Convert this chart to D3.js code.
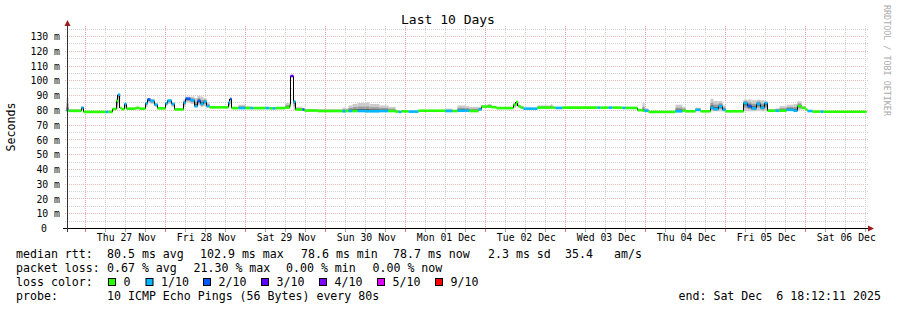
<!DOCTYPE html>
<html>
<head>
<meta charset="utf-8">
<script src="https://cdn.jsdelivr.net/npm/d3@7"></script>
<style>
  body { margin: 0; background: #fff; }
  svg { display: block; font-family: 'DejaVu Sans Mono', monospace; }
</style>
</head>
<body>
<div id="app"></div>
<script>
// hours since graph start where each rrd step begins
const hours = [0.0, 0.6, 4.5, 5.1, 11.7, 12.6, 13.8, 15.0, 15.5, 16.1, 16.5, 17.4, 18.0, 20.7, 21.9, 23.7, 24.3, 25.2, 26.4, 27.3,
  29.7, 30.3, 31.5, 32.4, 35.1, 35.7, 37.2, 38.4, 39.3, 40.2, 41.1, 42.0, 42.9, 48.6, 49.1, 49.5, 51.6, 53.7, 55.2, 56.1,
  59.7, 60.9, 61.8, 62.7, 65.7, 66.9, 67.2, 68.1, 68.7, 70.8, 71.4, 75.3, 82.8, 83.7, 84.6, 85.8, 87.3, 89.7, 90.9, 93.9,
  96.6, 98.7, 99.6, 100.5, 102.6, 105.6, 113.7, 115.8, 117.3, 119.7, 120.9, 123.6, 124.5, 126.3, 127.5, 129.0, 134.1, 134.9, 135.5, 136.2,
  137.1, 141.3, 145.2, 145.8, 146.7, 148.8, 159.3, 160.2, 162.6, 163.8, 166.8, 167.7, 171.3, 172.8, 173.4, 174.6, 182.7, 184.8, 185.7, 188.7,
  190.2, 193.2, 194.1, 195.6, 196.8, 197.7, 203.1, 204.3, 205.5, 207.0, 208.2, 209.4, 210.3, 212.7, 213.9, 216.0, 218.1, 219.3, 220.5, 221.7,
  222.3, 223.8, 226.2, 227.1]
// median rtt in ms
const median = [79.6, 79.3, 81.5, 78.6, 78.6, 78.6, 80.6, 86.0, 90.3, 81.2, 80.5, 84.0, 80.8, 81.3, 80.8, 84.5, 87.0, 86.0, 83.5, 81.0,
  84.5, 86.3, 84.0, 80.3, 85.0, 87.5, 86.5, 82.5, 86.0, 84.0, 85.5, 82.5, 81.7, 85.0, 87.5, 81.2, 81.2, 81.2, 81.2, 81.2,
  81.2, 81.0, 81.0, 81.2, 81.5, 83.0, 102.9, 85.5, 80.2, 80.2, 79.5, 79.2, 79.0, 79.2, 79.2, 79.2, 79.2, 79.0, 79.0, 79.2,
  79.2, 78.8, 78.6, 79.0, 78.8, 79.4, 79.2, 79.2, 79.4, 79.4, 79.2, 80.3, 82.2, 82.2, 81.8, 81.2, 83.5, 85.3, 82.5, 81.5,
  80.8, 81.5, 81.5, 81.5, 81.3, 81.5, 81.5, 81.5, 81.5, 81.5, 81.3, 81.3, 79.8, 79.4, 79.4, 78.6, 79.0, 79.5, 79.0, 80.0,
  79.0, 81.5, 80.5, 82.5, 80.0, 79.0, 84.5, 82.5, 81.0, 84.0, 81.5, 84.5, 79.4, 79.4, 79.4, 80.0, 79.4, 82.5, 81.3, 80.2,
  79.2, 78.8, 78.8, 78.7]
// lost pings out of 10
const loss = [1, 0, 1, 0, 1, 0, 0, 0, 1, 0, 0, 1, 0, 0, 0, 1, 2, 1, 1, 0,
  1, 1, 1, 0, 1, 2, 1, 1, 2, 1, 1, 1, 0, 1, 2, 0, 1, 0, 1, 0,
  1, 0, 1, 0, 0, 0, 3, 1, 0, 2, 0, 0, 1, 0, 1, 0, 1, 1, 1, 1,
  0, 0, 1, 0, 1, 0, 1, 0, 1, 1, 0, 1, 0, 0, 0, 0, 0, 0, 0, 0,
  1, 0, 0, 0, 1, 0, 1, 0, 1, 0, 1, 0, 0, 0, 1, 0, 1, 0, 0, 1,
  0, 1, 1, 1, 1, 0, 1, 2, 1, 1, 1, 1, 0, 1, 0, 1, 1, 0, 0, 0,
  1, 0, 1, 0]
// smoke: lowest and highest ping of each step in ms
const smokeLo = [79.0, 79.0, 79.5, 78.3, 78.3, 78.3, 80.2, 80.5, 86.0, 80.6, 80.1, 81.0, 80.4, 80.9, 80.4, 82.0, 84.5, 84.0, 82.0, 80.6,
  82.5, 84.0, 82.0, 79.9, 82.0, 85.0, 84.0, 81.5, 83.0, 82.0, 82.5, 81.5, 81.3, 82.0, 85.0, 80.8, 80.8, 80.8, 80.8, 80.8,
  80.8, 80.6, 80.6, 80.8, 81.0, 81.0, 102.5, 80.0, 79.8, 79.8, 79.1, 78.8, 78.6, 78.8, 78.8, 78.8, 78.8, 78.6, 78.6, 78.8,
  78.8, 78.4, 78.2, 78.6, 78.4, 79.0, 78.8, 78.8, 79.0, 79.0, 78.8, 79.9, 81.8, 81.8, 81.4, 80.8, 81.5, 83.0, 81.5, 81.1,
  80.4, 81.1, 81.1, 81.1, 80.9, 81.1, 81.1, 81.1, 81.1, 81.1, 80.9, 80.9, 79.4, 79.0, 79.0, 78.3, 78.6, 79.0, 78.6, 79.0,
  78.6, 79.0, 79.0, 79.0, 79.0, 78.6, 79.0, 79.0, 79.0, 79.5, 79.0, 79.0, 79.0, 79.0, 79.0, 79.4, 79.0, 80.0, 80.8, 79.8,
  78.8, 78.4, 78.4, 78.3]
const smokeHi = [88.0, 80.5, 82.0, 79.0, 79.0, 79.0, 81.0, 88.0, 90.6, 82.0, 81.0, 84.5, 81.3, 81.8, 81.3, 85.5, 87.8, 87.5, 84.5, 81.5,
  85.5, 87.0, 85.0, 80.8, 87.0, 89.0, 89.0, 88.0, 89.5, 89.0, 88.0, 85.0, 82.1, 85.5, 87.8, 81.6, 83.5, 82.5, 81.6, 81.6,
  81.6, 81.4, 81.4, 81.6, 84.6, 85.0, 103.2, 86.5, 82.0, 81.0, 80.5, 80.5, 81.5, 81.0, 83.0, 84.0, 84.6, 85.0, 84.0, 83.0,
  82.0, 80.0, 79.5, 79.4, 79.2, 79.8, 80.8, 79.6, 83.0, 82.5, 82.0, 82.0, 83.0, 84.0, 82.3, 81.6, 84.5, 85.5, 83.5, 82.5,
  81.2, 83.0, 83.8, 82.0, 81.7, 82.0, 82.0, 82.0, 81.9, 81.9, 81.7, 81.7, 80.3, 84.6, 81.0, 79.0, 83.5, 82.0, 79.5, 81.5,
  79.5, 87.5, 86.0, 86.0, 83.0, 79.5, 87.0, 87.0, 86.5, 87.0, 86.5, 86.0, 80.5, 81.0, 82.5, 83.5, 84.0, 85.8, 82.5, 80.6,
  79.6, 79.3, 79.2, 79.1]

const lossSteps = [0, 1, 2, 3, 4, 5, 9]
const lossColors = ['#26ff00', '#00b8ff', '#0059ff', '#5e00ff', '#7e00ff', '#dd00ff', '#ff0000']
const lossLabels = ['0', '1/10', '2/10', '3/10', '4/10', '5/10', '9/10']
const yTicks = [0, 10, 20, 30, 40, 50, 60, 70, 80, 90, 100, 110, 120, 130]
const dayLabels = ['Thu 27 Nov', 'Fri 28 Nov', 'Sat 29 Nov', 'Sun 30 Nov', 'Mon 01 Dec',
  'Tue 02 Dec', 'Wed 03 Dec', 'Thu 04 Dec', 'Fri 05 Dec', 'Sat 06 Dec']
const rttStats = ['80.5 ms avg', '102.9 ms max', '78.6 ms min', '78.7 ms now', '2.3 ms sd', '35.4', 'am/s']
const lossStats = ['0.67 % avg', '21.30 % max', '0.00 % min', '0.00 % now']
const probeText = '10 ICMP Echo Pings (56 Bytes) every 80s'
const endText = 'end: Sat Dec  6 18:12:11 2025'

;(function (d3) {
  'use strict'

  const w = 897
  const h = 310
  const start = new Date(2025, 10, 26, 18, 12, 11)
  const end = new Date(2025, 11, 6, 18, 12, 11)
  const at = hr => new Date(+start + hr * 3600e3)
  const colorOf = l => lossColors[lossSteps.indexOf(l)]

  const x = d3.scaleTime().domain([start, end]).range([66.5, 866.5])
  const y = d3.scaleLinear().domain([0, 130]).range([228, 36])

  const svg = d3.select('#app')
    .append('svg')
    .attr('width', w)
    .attr('height', h)

  svg.append('rect').attr('width', w).attr('height', h).attr('fill', '#fff')

  // title, y label, watermark
  svg.append('text')
    .attr('x', 448).attr('y', 24)
    .attr('text-anchor', 'middle')
    .style('font-size', '13px')
    .text('Last 10 Days')

  svg.append('text')
    .attr('transform', 'translate(14.5,127) rotate(-90)')
    .attr('text-anchor', 'middle')
    .style('font-size', '11.6px')
    .text('Seconds')

  svg.append('text')
    .attr('transform', 'translate(884,5) rotate(90)')
    .style('font-size', '8.4px')
    .attr('fill', '#ababab')
    .text('RRDTOOL / TOBI OETIKER')

  // grid
  const grid = svg.append('g')
  const yGrid = d3.range(5, 136, 5)
  grid.selectAll('line.hg')
    .data(yGrid)
    .enter()
    .append('line')
    .attr('x1', 65).attr('x2', 868)
    .attr('y1', d => Math.round(y(d)) + 0.5)
    .attr('y2', d => Math.round(y(d)) + 0.5)
    .attr('stroke', d => d % 10 === 0 ? '#ebb9b9' : '#d2d2d2')
    .attr('stroke-dasharray', '1,1')

  const sixHours = d3.timeHour.every(6).range(start, end)
  grid.selectAll('line.vg')
    .data(sixHours)
    .enter()
    .append('line')
    .attr('x1', d => Math.floor(x(d)) + 0.5)
    .attr('x2', d => Math.floor(x(d)) + 0.5)
    .attr('y1', 26).attr('y2', 231)
    .attr('stroke', d => d.getHours() === 0 ? '#e7a3a3' : '#cfcfcf')
    .attr('stroke-dasharray', '1,1')

  // steps
  const steps = hours.map((hr, i) => ({
    x0: x(at(hr)),
    x1: x(at(i < hours.length - 1 ? hours[i + 1] : 240)),
    med: median[i],
    loss: loss[i],
    lo: smokeLo[i],
    hi: smokeHi[i]
  }))

  // smoke
  const smoke = svg.append('g')
  const layers = [[1, '#cbcbcb'], [0.55, '#9c9c9c'], [0.25, '#555']]
  layers.forEach(function (ly) {
    smoke.selectAll(null)
      .data(steps)
      .enter()
      .append('rect')
      .attr('x', d => d.x0)
      .attr('width', d => d.x1 - d.x0)
      .attr('y', d => y(d.med + (d.hi - d.med) * ly[0]))
      .attr('height', d => y(d.med - (d.med - d.lo) * ly[0]) - y(d.med + (d.hi - d.med) * ly[0]))
      .attr('fill', ly[1])
  })

  // median: black risers, coloured treads
  const risers = steps.slice(0, -1).map((d, i) => ({ x: d.x1, a: d.med, b: steps[i + 1].med }))
    .filter(d => Math.abs(y(d.a) - y(d.b)) > 2)
  svg.append('g')
    .selectAll('line')
    .data(risers)
    .enter()
    .append('line')
    .attr('x1', d => Math.round(d.x) - 0.5)
    .attr('x2', d => Math.round(d.x) - 0.5)
    .attr('y1', d => y(d.a))
    .attr('y2', d => y(d.b))
    .attr('stroke', '#000')
    .attr('stroke-width', 1)

  svg.append('g')
    .selectAll('line')
    .data(steps)
    .enter()
    .append('line')
    .attr('x1', d => d.x0)
    .attr('x2', d => d.x1)
    .attr('y1', d => y(d.med))
    .attr('y2', d => y(d.med))
    .attr('stroke', d => colorOf(d.loss))
    .attr('stroke-width', 2.6)

  // axes
  const ax = svg.append('g')
  ax.append('line')
    .attr('x1', 63).attr('x2', 869)
    .attr('y1', 228.5).attr('y2', 228.5)
    .attr('stroke', '#000')
  ax.append('line')
    .attr('x1', 67.5).attr('x2', 67.5)
    .attr('y1', 232).attr('y2', 24)
    .attr('stroke', '#333')
  ax.append('path')
    .attr('d', 'M868,225.5L874,228.5L868,231.5Z')
    .attr('fill', '#9b1c1c')
  ax.append('path')
    .attr('d', 'M64.5,26L67.5,20L70.5,26Z')
    .attr('fill', '#9b1c1c')

  ax.selectAll('line.tk')
    .data(sixHours)
    .enter()
    .append('line')
    .attr('x1', d => Math.floor(x(d)) + 0.5)
    .attr('x2', d => Math.floor(x(d)) + 0.5)
    .attr('y1', 229).attr('y2', 232)
    .attr('stroke', d => d.getHours() === 0 ? '#d77' : '#aaa')

  const yAxis = d3.axisLeft(y)
    .tickValues(yTicks)
    .tickSize(0)
    .tickPadding(7)
    .tickFormat(d => d === 0 ? '0' : d + ' m')
  svg.append('g')
    .attr('transform', 'translate(67,0.5)')
    .call(yAxis)
    .call(g => g.select('.domain').remove())
    .call(g => g.selectAll('text')
      .attr('font-family', 'DejaVu Sans Mono')
      .attr('font-size', '9.8px')
      .attr('fill', '#000')
      .filter(d => d === 0).attr('x', -20))

  const noons = dayLabels.map((lb, i) => d3.timeHour.offset(d3.timeDay.ceil(start), 24 * i + 12))
  const xAxis = d3.axisBottom(x)
    .tickValues(noons)
    .tickSize(0)
    .tickPadding(6)
    .tickFormat((d, i) => dayLabels[i])
  svg.append('g')
    .attr('transform', 'translate(0,228)')
    .call(xAxis)
    .call(g => g.select('.domain').remove())
    .call(g => g.selectAll('text')
      .attr('font-family', 'DejaVu Sans Mono')
      .attr('font-size', '9.8px')
      .attr('fill', '#000'))

  // legend
  const leg = svg.append('g').style('font-size', '11.6px')
  const put = (tx, px, py) => leg.append('text').attr('x', px).attr('y', py).style('white-space', 'pre').text(tx)

  put('median rtt:', 16, 258)
  const rttX = [107, 200, 301, 393, 488, 565, 614]
  rttStats.forEach((s, i) => put(s, rttX[i], 258))

  put('packet loss:', 16, 272)
  const lossX = [107, 193.5, 286, 372.5]
  lossStats.forEach((s, i) => put(s, lossX[i], 272))

  put('loss color:', 16, 286)
  const boxX = [108.5, 146, 203.5, 261.5, 319.5, 377.5, 435.5]
  lossLabels.forEach(function (lb, i) {
    leg.append('rect')
      .attr('x', boxX[i]).attr('y', 278.5)
      .attr('width', 7).attr('height', 7)
      .attr('fill', lossColors[i])
      .attr('stroke', '#000')
    put(lb, boxX[i] + 15, 286)
  })

  put('probe:', 16, 300)
  put(probeText, 107, 300)
  put(endText, 678.5, 300)

}(d3))
</script>
</body>
</html>
